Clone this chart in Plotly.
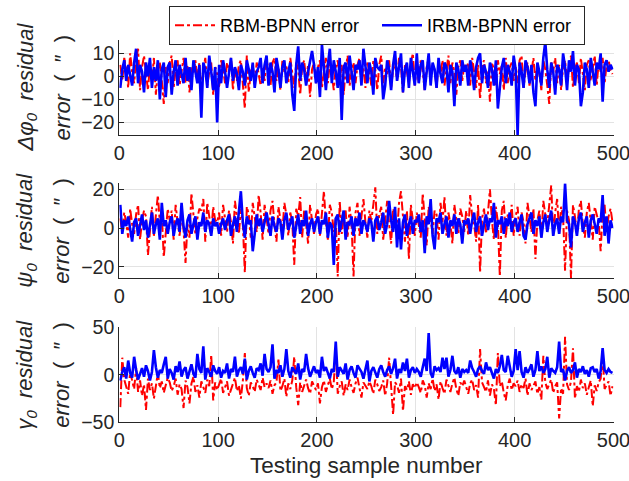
import plotly.graph_objects as go

# Testing sample numbers (every second sample)
samples = list(range(1, 500, 2))

# Δφ0 residual error (″)
phi_rbm = [
    5, -2, 8, 3, -5, 10, 2, -3, 7, 12, -6, 4, 9, 1, -6, 5, -2, 8, -8, 3, 6, -2, -12, 4, -3,
    6, 9, -5, 3, 7, -4, 2, 8, -3, 5, -7, 4, 1, 7, -2, 6, -6, 3, 8, -4, 2, 6, -8, 4, 1,
    -5, 7, 3, -3, 6, 2, 8, -6, 4, -2, 5, 7, -4, -14, 9, -7, 2, 5, -3, 6, 1, -4, 4, -2, 7,
    3, -4, 6, 8, -2, 4, -6, 7, 2, 5, -3, 8, 1, -5, 6, 3, -8, 4, 7, -2, 5, -9, 3, 6, -3,
    4, 7, -5, 2, 8, -3, 6, 1, -6, 4, 7, -2, 5, -8, 3, 9, -4, 2, 6, -3, 5, 8, -2, 4, -5,
    6, 2, -4, 7, 3, -6, 5, 9, -3, 4, 1, 7, -5, 3, 6, -2, 8, 4, -7, 5, 2, -3, 6, 10, -4,
    5, -3, 7, 2, -6, 4, 8, -2, 5, 3, -5, 6, 1, 7, -4, 3, 9, -3, 6, 2, -8, 4, 7, -2, 5,
    3, 6, -4, 8, 2, -5, 5, -10, 4, 7, -3, 2, -11, 6, 3, -4, 7, 1, 5, -6, 8, -3, 4, 6, -2,
    4, -3, 7, 9, -5, 2, 6, -4, 3, 8, -2, 5, 1, -6, 7, 3, -4, -12, 6, 2, 8, -3, 5, -6, 4,
    7, -2, 4, 9, -5, 3, 6, -3, 8, 2, -6, 5, 7, -2, 3, 9, -4, 6, 2, 8, -3, 5, 7, 3, 1,
]
phi_irbm = [
    -5, 3, 7, -2, 5, 1, -4, 6, 12, -3, 5, 2, -7, 6, 0, 8, -5, 4, -2, 7, -10, 3, 6, -9, 4,
    6, -8, 2, 7, -4, 5, 1, -3, 8, -2, 4, -6, 7, 2, -3, 5, -18, 6, 3, -5, 9, 2, -6, 4, -20,
    5, -3, 7, 2, -5, 3, 8, -2, 4, 1, -6, 5, 2, -4, 7, 3, -2, 6, -5, 2, 4, 8, -3, 5, 9,
    -4, 6, 2, -7, 8, 3, -5, 4, 7, -3, 2, 6, -8, -15, 5, 13, -2, 6, 3, -4, 2, 7, 11, 5, -3,
    4, -9, 14, 2, -6, 5, 12, -3, 7, 2, -5, 8, -19, 4, 6, -3, 9, 2, -6, 5, 3, 7, -4, 12, 5,
    -3, 6, 2, -8, 8, 4, 3, 5, -10, -4, 7, 3, -6, 5, 11, -2, 4, 10, -7, 3, 6, -5, 8, 2, -4,
    10, -3, 5, 7, -6, 2, 10, -4, 6, 3, -5, 8, 1, -3, 6, 4, -7, 5, 2, -13, 6, 3, -4, 7, 2,
    5, -4, 7, 2, -6, 4, 8, 10, -3, 5, 2, -5, 6, 3, -4, 7, -14, -6, 4, 8, -3, 5, 2, -4, 9,
    3, -25.5, 6, 2, -5, 7, 4, -3, 5, -7, -13, 6, 2, -4, 8, 15, 3, -5, 6, 2, -8, 5, 3, -4, 10,
    4, -6, 7, 2, 11, -4, 5, 3, -13, -7, 6, 3, -5, 8, 2, -4, 6, 3, 10, -11, 5, 7, 2, 5, 3,
]

# ψ0 residual error (″)
psi_rbm = [
    5, -2, 8, 3, -5, 10, 2, -3, 7, 12, -6, 4, 9, 6, -14, 1, 11, -4, 8, 17, 3, 7, -15, -2, 10,
    4, 9, -6, 12, 3, -4, 8, -1, -18, 2, -5, 18, 7, -3, 5, 10, 9, 15, -7, 13, 6, -2, 11, 4, 3,
    8, -4, 12, 5, -2, 9, 3, -8, 14, 6, -3, 10, 2, -23, 11, 7, -5, 13, 4, -2, 17, 8, -6, 12, 5,
    -3, 9, 14, 2, -7, 11, 5, -2, 13, 7, -4, 8, 3, -19, 10, 6, 16, -5, 9, 2, -8, 12, 4, -3, 7,
    10, -4, 6, 19, 3, -6, 12, 8, -2, 5, -25, 14, -3, 5, 9, -5, 11, 2, -25, 8, 13, -4, 6, 15, 3,
    -5, 9, 4, 12, 21, -3, 7, 11, -6, 4, 14, 2, -8, 10, 6, -3, 13, 19, 5, -7, 9, -16, 12, 3, -4,
    8, 2, -5, 18, 6, -9, 11, 4, -3, 9, 7, -6, 13, 3, 16, -4, 8, 2, -8, 12, 5, -3, 10, 6, -2,
    9, -4, 17, 6, 2, -7, 12, -23, 5, 10, -3, 8, 20, 4, -6, 11, 3, -25, 9, 14, -5, 7, 2, 12, -4,
    6, 11, -4, 8, 3, -8, 13, 5, -2, 10, -16, 4, 9, -5, 14, 7, 2, 12, 22, -4, 8, 15, -3, 11, 6,
    -22, 9, 4, -25.8, 12, 6, -3, 10, 14, 2, -5, 8, 13, 4, -6, 11, 7, 3, -12, 9, 12, -2, 6, 10, 3,
]
psi_irbm = [
    12, -3, 4, 1, 6, -2, -7, 3, 5, -4, 2, 7, -1, 4, -5, 3, 8, -3, 2, 5, -6, 13, 1, 4, -3,
    3, 6, -4, 2, 5, -2, 13, 1, -5, 4, 7, -3, 2, 6, -6, 3, 1, 8, -2, 4, 2, -4, 5, 1, 3,
    -3, 2, 5, -1, 4, 7, -4, 2, 6, -2, 8, 19, 3, -5, 6, 2, 4, -12, -3, 7, 1, 5, -2, 3, 8,
    2, -4, 6, 1, -2, 5, 3, -6, 4, 8, -1, 3, 6, -5, 2, 7, -3, 4, 1, 9, -4, 2, 5, -2, 3,
    6, -3, 4, 2, 8, -5, 3, 1, -19, 5, 7, -2, 4, 9, -6, 3, 2, 6, -4, 5, 1, 8, -3, 4, 2,
    -2, 5, 3, -7, 4, 6, -1, 3, 8, -3, 2, 14, 4, -2, 11, -10, 5, -11, 3, 7, -4, 2, 6, -3, 4,
    3, 7, -2, 4, -13, 6, 2, 15, -4, -11, 5, 3, 8, -3, 2, 6, -5, 4, 1, 7, -3, 5, 2, -8, 4,
    2, 5, -3, 4, 8, -2, 3, 6, -4, 2, 7, -1, 5, 3, 13, -5, 4, 2, 6, -3, 5, 1, 8, -2, 3,
    5, -2, 3, 7, -4, -6, 2, 5, 8, -3, 4, 1, 6, -5, 3, 7, -2, 4, 9, -4, 2, 5, -3, 6, 3,
    23, 4, 2, -10, 6, 3, -4, 5, 8, -2, 3, 6, -5, 4, 7, 2, -3, 5, 3, 17, -4, 6, -8, 4, 0,
]

# γ0 residual error (″)
gamma_rbm = [
    -34, 18, -5, -12, -20, 3, -8, -15, 7, -18, -6, -22, -10, -37, -4, -16, -9, -25, -12, 2, -14, -7, -19, -11, -3,
    -8, -17, -12, -4, -21, -10, -15, -35, -6, -13, -30, -9, -2, -18, -11, -24, -7, -14, -19, -5, -12, 21, -27, -8, -16,
    -10, -4, -19, -13, -7, -22, -15, -9, -3, -17, -11, -25, -6, 23, -14, -22, -8, -12, -18, -5, -10, -16, -3, -13, -9,
    -14, -6, -20, -11, -8, 16, -17, -12, -4, -23, -9, -15, -6, 19, -13, -32, -8, -18, -11, -5, -14, -20, -7, -12, -16,
    -9, -30, -13, -6, -18, -11, -4, -15, -8, 27, -20, -12, -7, -22, -10, -16, -5, -13, -19, -9, -3, -14, -24, -8, -11,
    -15, -7, -12, -20, -5, -10, -17, -13, -6, -22, -9, 18, -14, -42, -8, -11, -19, -4, -38, -12, -16, -7, -21, -10, -14,
    -8, -13, -19, -6, -11, -24, -9, -15, -4, -17, -10, -26, -7, -14, -20, -5, -12, -18, -9, -3, -15, -22, -8, -12, -6,
    -14, -20, -9, -5, -16, -11, -24, 27, -8, -13, -18, -6, -22, -10, -15, -32, 23, -12, -7, -19, -27, -11, -4, -16, -9,
    -12, -6, -18, -10, -14, -4, -22, -9, -16, -11, -7, -20, -13, -26, 20, -8, -15, -10, -5, -19, -12, -8, -46, -14, -20,
    40, -10, -16, -7, 28, -25, -12, -18, -5, -14, -9, -21, -13, -6, -33, -11, -17, -8, -4, 20, -15, -10, -7, -22, -12,
]
gamma_irbm = [
    -6, 3, 8, -4, 15, 2, -3, 19, 5, -5, 1, 7, -2, 10, 4, -6, 3, 26, 8, -3, 5, 2, 11, 19, -4,
    6, 2, -5, 9, 3, 14, -2, 5, 8, -4, 3, 11, 1, -3, 22, 6, 2, 30, -5, 7, 3, -2, 10, 4, 1,
    8, -3, 4, 2, 12, -4, 6, 3, 19, -2, 5, 8, 1, 17, -5, 4, 9, 2, -3, 7, 5, 12, -1, 22, 6,
    3, 8, 32, -4, 5, 2, 10, -2, 6, 27, 4, -3, 8, 5, 1, 12, -5, 6, 3, 22, 7, -2, 4, 9, 2,
    5, -3, 19, 4, 8, 2, -4, 6, 3, 35, -2, 8, 4, 1, 12, -5, 5, 9, 2, -3, 10, 6, 3, -4, 7,
    15, -7, 4, 8, 2, -3, 6, 10, 3, -2, 5, 9, 1, 7, 17, -4, 6, 2, 13, 4, 17, -3, 5, 8, 2,
    6, 3, -2, 8, 17, 4, 44, 2, -3, 9, 5, 7, 3, 18, 6, 18, -2, 5, 20, 4, 1, 8, -3, 6, 3,
    5, 2, 15, 7, 3, -2, 6, 9, 4, 1, 13, 5, 8, 3, -4, 6, 2, 9, 21, 5, 3, 20, 7, -2, 4,
    27, 5, 25, 3, -3, 8, 2, 6, 11, -2, 5, 25, 4, 9, 2, 6, 19, -3, 7, 4, 2, 8, 35, 3, 6,
    -6, 4, 8, 2, 5, 13, -3, 6, 3, 9, 1, 5, -2, 7, 8, 3, 6, -4, 4, 28, 5, 2, 6, 3, 2,
]

for arr in (phi_rbm, phi_irbm, psi_rbm, psi_irbm, gamma_rbm, gamma_irbm):
    assert len(arr) == len(samples), len(arr)

x_ticks = [0, 100, 200, 300, 400, 500]
y_ticks = [[-20, -10, 0, 10], [-20, 0, 20], [-50, 0, 50]]
y_ranges = [[-25.5, 15.8], [-25.8, 23.1], [-50, 50]]
y_labels = [
    ("<i>Δφ<sub>0</sub>  residual</i>", "<i>error</i>  (  ″  )"),
    ("<i>ψ<sub>0</sub>  residual</i>", "<i>error</i>  (  ″  )"),
    ("<i>γ<sub>0</sub>  residual</i>", "<i>error</i>  (  ″  )"),
]
series = [(phi_rbm, phi_irbm), (psi_rbm, psi_irbm), (gamma_rbm, gamma_irbm)]

W, H = 629, 481
FONT = "Liberation Sans, Arial, sans-serif"
AX = "#262626"
GRID = "#e3e3e3"

x0, x1 = 119.3 / W, 613.5 / W
panels_px = [(40, 135), (183.3, 278), (327.3, 422.3)]

fig = go.Figure()
layout = dict(
    width=W, height=H,
    margin=dict(l=0, r=0, t=0, b=0, autoexpand=False),
    paper_bgcolor="white", plot_bgcolor="white",
    font=dict(family=FONT, color=AX, size=20),
    showlegend=True,
    legend=dict(
        orientation="h", x=169 / W, y=1 - 6 / H, xanchor="left", yanchor="top",
        bordercolor="#262626", borderwidth=1, bgcolor="white",
        font=dict(size=18, color="black", family=FONT),
        tracegroupgap=0, itemwidth=40, entrywidth=152,
    ),
    annotations=[],
)

for i, ((rbm, irbm), (top, bot)) in enumerate(zip(series, panels_px)):
    n = "" if i == 0 else str(i + 1)
    xa, ya = "x" + n, "y" + n
    fig.add_trace(go.Scatter(
        x=samples, y=rbm, mode="lines", name="RBM-BPNN error",
        line=dict(color="#ff0000", width=2, dash="dashdot"),
        xaxis=xa, yaxis=ya, showlegend=(i == 0),
    ))
    fig.add_trace(go.Scatter(
        x=samples, y=irbm, mode="lines", name="IRBM-BPNN error",
        line=dict(color="#0000ff", width=2.6),
        xaxis=xa, yaxis=ya, showlegend=(i == 0),
    ))
    dom_y = [1 - bot / H, 1 - top / H]
    layout["xaxis" + n] = dict(
        domain=[x0, x1], anchor=ya, range=[0, 500],
        tickvals=x_ticks, ticks="inside", ticklen=5, tickcolor=AX,
        showline=True, linecolor=AX, linewidth=1.3, mirror=False,
        showgrid=True, gridcolor=GRID, gridwidth=1, zeroline=False,
        tickfont=dict(size=20, color=AX, family=FONT),
        ticklabeloverflow="allow",
    )
    layout["yaxis" + n] = dict(
        domain=dom_y, anchor=xa, range=y_ranges[i],
        tickvals=y_ticks[i], ticks="inside", ticklen=5, tickcolor=AX,
        showline=True, linecolor=AX, linewidth=1.3, mirror=False,
        showgrid=True, gridcolor=GRID, gridwidth=1, zeroline=False,
        tickfont=dict(size=19.5, color=AX, family=FONT),
        ticklabeloverflow="allow",
    )
    yc = 1 - (top + bot) / 2 / H
    l1, l2 = y_labels[i]
    layout["annotations"].append(dict(
        text=l1, x=26 / W, y=yc, xref="paper", yref="paper",
        xanchor="center", yanchor="middle", textangle=-90, showarrow=False,
        font=dict(size=22, color=AX, family=FONT),
    ))
    layout["annotations"].append(dict(
        text=l2, x=62 / W, y=yc, xref="paper", yref="paper",
        xanchor="center", yanchor="middle", textangle=-90, showarrow=False,
        font=dict(size=22, color=AX, family=FONT),
    ))

layout["annotations"].append(dict(
    text="Testing sample number", x=(119.3 + 613.5) / 2 / W, y=1 - 465 / H,
    xref="paper", yref="paper", xanchor="center", yanchor="middle",
    showarrow=False, font=dict(size=22.5, color=AX, family=FONT),
))

fig.update_layout(**layout)
fig.write_html("out.html")
